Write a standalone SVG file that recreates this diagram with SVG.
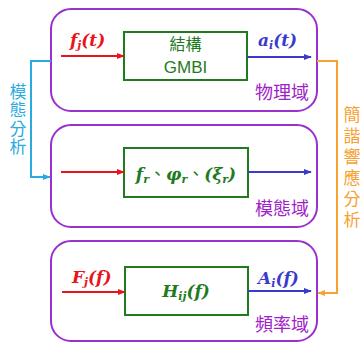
<svg xmlns="http://www.w3.org/2000/svg" width="363" height="342" viewBox="0 0 363 342">
<defs>
<style>
.panel{fill:#fff;stroke:#9b30d0;stroke-width:2}
.box{fill:#fff;stroke:#1e7b1e;stroke-width:2}
.dom{font-family:"Noto Sans CJK TC","Noto Sans CJK SC",sans-serif;font-size:18px;fill:#a020c8;text-anchor:end}
.math{font-family:"DejaVu Serif",serif;font-style:italic;font-weight:bold;font-size:17px}
.sub{font-size:11px}
.red{fill:#e8141b}
.blue{fill:#3a3acc}
.green{fill:#1e7b1e}
.vt{font-family:"Noto Sans CJK TC","Noto Sans CJK SC",sans-serif;font-size:17px;text-anchor:middle;writing-mode:vertical-rl}
</style>
<marker id="ar" viewBox="0 0 10 10" refX="9" refY="5" markerWidth="8" markerHeight="8" markerUnits="userSpaceOnUse" orient="auto"><path d="M0,1 L10,5 L0,9 z" fill="#e8141b"/></marker>
<marker id="ab" viewBox="0 0 10 10" refX="9" refY="5" markerWidth="8" markerHeight="8" markerUnits="userSpaceOnUse" orient="auto"><path d="M0,1 L10,5 L0,9 z" fill="#3a3acc"/></marker>
<marker id="ac" viewBox="0 0 10 10" refX="9" refY="5" markerWidth="8" markerHeight="8" markerUnits="userSpaceOnUse" orient="auto"><path d="M0,1 L10,5 L0,9 z" fill="#29abe2"/></marker>
<marker id="ao" viewBox="0 0 10 10" refX="9" refY="5" markerWidth="8" markerHeight="8" markerUnits="userSpaceOnUse" orient="auto"><path d="M0,1 L10,5 L0,9 z" fill="#f7a130"/></marker>
</defs>
<rect width="363" height="342" fill="#fff"/>
<g id="physical">
<rect class="panel" x="51" y="9" width="266" height="102" rx="20"/>
<rect class="box" x="124" y="32" width="123" height="48"/>
<text x="185.5" y="50" font-family="'Noto Sans CJK TC','Noto Sans CJK SC',sans-serif" font-size="16" fill="#1e7b1e" text-anchor="middle">結構</text>
<text x="185.5" y="73" font-family="'Liberation Sans',sans-serif" font-size="17" fill="#1e7b1e" text-anchor="middle">GMBI</text>
<text class="math red" x="70" y="46">f<tspan class="sub" dy="3">j</tspan><tspan dy="-3">(t)</tspan></text>
<text class="math blue" x="258" y="46">a<tspan class="sub" dy="3">i</tspan><tspan dy="-3">(t)</tspan></text>
<text class="dom" x="309" y="99">物理域</text>
</g>
<g id="modal">
<rect class="panel" x="51" y="125" width="266" height="102" rx="20"/>
<rect class="box" x="124" y="148" width="124" height="49"/>
<text class="math green" x="186" y="180" text-anchor="middle" font-size="16">f<tspan class="sub" dy="3">r</tspan><tspan dy="-3" font-style="normal" font-weight="normal" font-family="'Noto Sans CJK TC',sans-serif">、</tspan>φ<tspan class="sub" dy="3">r</tspan><tspan dy="-3" font-style="normal" font-weight="normal" font-family="'Noto Sans CJK TC',sans-serif">、</tspan>(ξ<tspan class="sub" dy="3">r</tspan><tspan dy="-3">)</tspan></text>
<text class="dom" x="309" y="215">模態域</text>
</g>
<g id="frequency">
<rect class="panel" x="51" y="241" width="266" height="100" rx="20"/>
<rect class="box" x="125" y="267" width="123" height="48"/>
<text class="math green" x="186" y="297" text-anchor="middle" font-size="16">H<tspan class="sub" dy="3">ij</tspan><tspan dy="-3">(f)</tspan></text>
<text class="math red" x="72" y="283">F<tspan class="sub" dy="3">j</tspan><tspan dy="-3">(f)</tspan></text>
<text class="math blue" x="258" y="284">A<tspan class="sub" dy="3">i</tspan><tspan dy="-3">(f)</tspan></text>
<text class="dom" x="309" y="331">頻率域</text>
</g>
<g id="connectors" fill="none" stroke-width="2">
<line x1="61" y1="56" x2="124" y2="56" stroke="#e8141b" marker-end="url(#ar)"/>
<line x1="247" y1="57" x2="311" y2="57" stroke="#3a3acc" marker-end="url(#ab)"/>
<line x1="61" y1="172" x2="124" y2="172" stroke="#e8141b" marker-end="url(#ar)"/>
<line x1="248" y1="172" x2="311" y2="172" stroke="#3a3acc" marker-end="url(#ab)"/>
<line x1="62" y1="292" x2="125" y2="292" stroke="#e8141b" marker-end="url(#ar)"/>
<line x1="248" y1="291" x2="311" y2="291" stroke="#3a3acc" marker-end="url(#ab)"/>
<polyline points="51,61 31,61 31,177 50,177" stroke="#29abe2" marker-end="url(#ac)"/>
<polyline points="317,61 337,61 337,293 318,293" stroke="#f7a130" marker-end="url(#ao)"/>
</g>
<g id="labels">
<text class="vt" x="18" y="120" fill="#29abe2" letter-spacing="1.5">模態分析</text>
<text class="vt" x="352" y="169" fill="#f7a130" letter-spacing="4">簡諧響應分析</text>
</g>
</svg>
